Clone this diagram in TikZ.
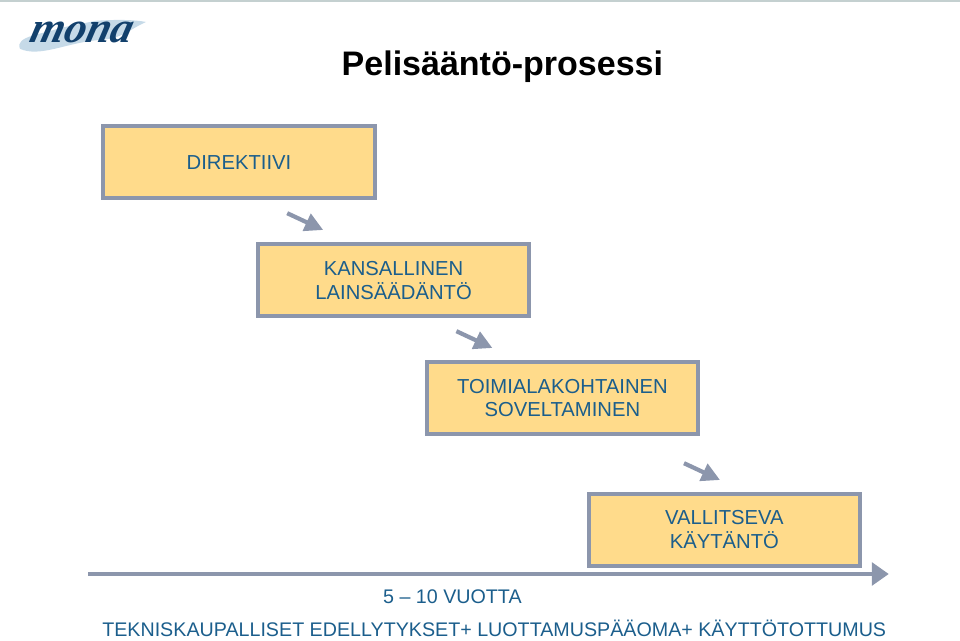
\documentclass[tikz,border=0pt]{standalone}
\usepackage{fontspec}
\setmainfont{Liberation Sans}
\usepackage{xcolor}
\usetikzlibrary{arrows.meta,positioning,calc}
\definecolor{boxfill}{HTML}{FFDB8B}
\definecolor{boxline}{HTML}{8C96AC}
\definecolor{boxtext}{HTML}{1B5E8C}
\definecolor{logotext}{HTML}{12406C}
\definecolor{logobrush}{HTML}{C6DAE8}
\definecolor{topline}{HTML}{C4D0D0}
\tikzset{
    stagebox/.style={draw=boxline, line width=2.8pt, fill=boxfill, rectangle, minimum width=6.78cm, minimum height=1.8cm, align=center, text=boxtext, font=\fontsize{14.4}{17}\selectfont},
    stagearrow/.style={draw=boxline, line width=3pt, -{Triangle[length=13pt,width=13pt]}, shorten >=0pt},
    timearrow/.style={draw=boxline, line width=2.8pt, -{Triangle[length=12pt,width=16pt]}},
    bottomtext/.style={text=boxtext, inner sep=0pt, font=\fontsize{14}{17}\selectfont}
}
\begin{document}
\begin{tikzpicture}
    \useasboundingbox (0,0) rectangle (24,16);
    % Top edge
    \fill[topline] (0,15.95) rectangle (24,16);
    
    % Logo
    \fill[logobrush] (0.5,14.78) .. controls (0.35,15.1) and (1.1,15.15) .. (1.5,15.3) -- (2.4,15.48) .. controls (3,15.52) and (3.4,15.5) .. (3.65,15.45) .. controls (3.2,15.25) and (3.1,15.05) .. (2.5,15) .. controls (1.7,14.95) and (1,14.55) .. (0.5,14.78);
    \node[text=logotext, inner sep=0pt, xslant=0.25, transform shape, font=\fontspec{Liberation Serif}\itshape\bfseries\fontsize{31}{31}\selectfont] (logo) at (2.05,15.2) {mona};
    
    % Title
    \node[inner sep=0pt, font=\bfseries\fontsize{24.2}{29}\selectfont] (title) at (12.56,14.33) {Pelisääntö-prosessi};
    
    % Stages
    \node[stagebox] (direktiivi) at (5.975,11.94) {DIREKTIIVI};
    \node[stagebox] (kansallinen) at (9.84,8.99) {KANSALLINEN\\LAINSÄÄDÄNTÖ};
    \node[stagebox] (toimiala) at (14.06,6.05) {TOIMIALAKOHTAINEN\\SOVELTAMINEN};
    \node[stagebox] (kaytanto) at (18.11,2.76) {VALLITSEVA\\KÄYTÄNTÖ};
    
    % Small arrows
    \coordinate (a1) at (7.18,10.67);
    \coordinate (a2) at (8.08,10.25);
    \coordinate (b1) at (11.41,7.72);
    \coordinate (b2) at (12.31,7.3);
    \coordinate (c1) at (17.1,4.42);
    \coordinate (c2) at (18,4);
    \draw[stagearrow] (a1) -- (a2);
    \draw[stagearrow] (b1) -- (b2);
    \draw[stagearrow] (c1) -- (c2);
    
    % Time line
    \coordinate (t1) at (2.2,1.65);
    \coordinate (t2) at (22.22,1.65);
    \draw[timearrow] (t1) -- (t2);
    
    % Bottom texts
    \node[bottomtext] (vuotta) at (11.31,1.08) {5 -- 10 VUOTTA};
    \node[bottomtext, anchor=base west] (edellytykset) at (2.55,0.09) {TEKNISKAUPALLISET EDELLYTYKSET+ LUOTTAMUSPÄÄOMA+ KÄYTTÖTOTTUMUS};
\end{tikzpicture}
\end{document}
